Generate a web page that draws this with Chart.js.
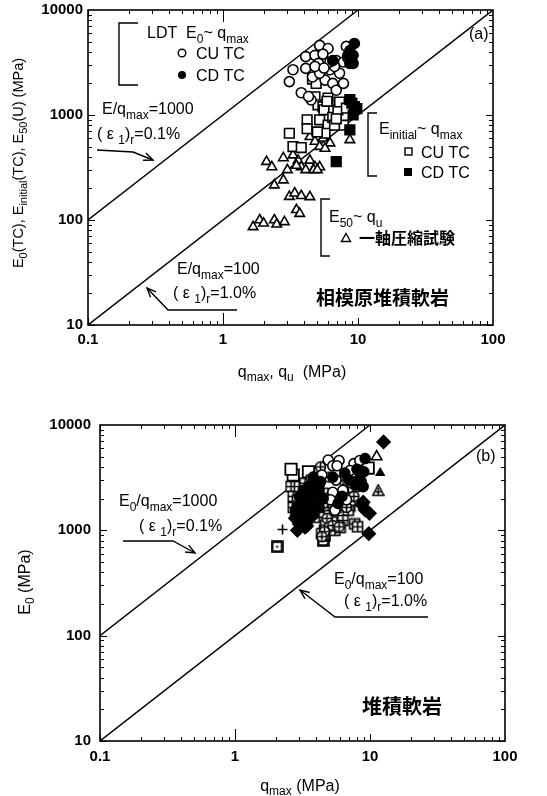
<!DOCTYPE html>
<html>
<head>
<meta charset="utf-8">
<script src="https://cdn.jsdelivr.net/npm/chart.js@4"></script>
<style>
  body { margin: 0; background: #fff; }
  #boxA { position: absolute; left: 0; top: 0; }
  #boxB { position: absolute; left: 0; top: 400px; }
</style>
</head>
<body>
<div id="boxA"><canvas id="chartA" width="547" height="395"></canvas></div>
<div id="boxB"><canvas id="chartB" width="547" height="396"></canvas></div>
<script>
// --- axes ---
const xTicks = [0.1, 1, 10, 100];
const yTicks = [10, 100, 1000, 10000];
const xTickLabels = ['0.1', '1', '10', '100'];
const yTickLabels = ['10', '100', '1000', '10000'];

// reference lines E/qmax = 1000 and 100
const line1000Q = [0.1, 10];
const line1000E = [100, 10000];
const line100Q = [0.1, 100];
const line100E = [10, 10000];

// --- (a) 相模原堆積軟岩 ---
// LDT E0 ~ qmax, CU TC
const ldtCuQ = [3.1, 3.3, 3.8, 4.1, 4.1, 4.8, 5.2, 5.1, 4.5, 6.0, 6.2, 6.9, 5.7, 6.5, 7.3, 7.8, 8.2, 6.9, 7.8, 5.5, 4.6, 5.2, 4.8, 6.7, 8.4, 6.2, 5.6, 4.3];
const ldtCuE = [2080, 2700, 1630, 3600, 2780, 3700, 4600, 3100, 1390, 4300, 2700, 3300, 2150, 2000, 2500, 3200, 4500, 1720, 2000, 3800, 2300, 2500, 2900, 2900, 3500, 3200, 2800, 1500];
// LDT E0 ~ qmax, CD TC
const ldtCdQ = [9.4, 8.4, 8.7, 9.2, 6.5, 8.7, 9.2];
const ldtCdE = [4800, 3700, 3100, 3100, 3300, 4100, 3700];
// Einitial ~ qmax, CU TC
const iniCuQ = [3.1, 3.3, 3.8, 4.2, 4.2, 4.8, 5.05, 5.5, 6.0, 5.2, 5.6, 6.0, 5.7, 5.0, 6.5, 7.1, 7.3, 7.8, 6.7, 4.6, 6.9, 8.2, 4.9, 5.9];
const iniCuE = [670, 500, 490, 900, 740, 1490, 1250, 1200, 1450, 900, 1120, 800, 670, 690, 950, 1120, 1330, 800, 800, 2200, 920, 1160, 2000, 1350];
// Einitial ~ qmax, CD TC
const iniCdQ = [6.9, 8.7, 8.7, 9.4, 9.2, 9.8, 9.0];
const iniCdE = [360, 720, 1400, 1200, 1000, 1150, 1300];
// E50 ~ qu, 一軸圧縮試験
const uniQ = [1.67, 1.87, 2.0, 2.4, 2.5, 2.85, 2.1, 2.3, 2.8, 3.0, 2.8, 2.4, 3.1, 3.4, 3.8, 4.4, 3.5, 3.7, 3.6, 3.8, 4.1, 4.4, 4.8, 5.2, 4.7, 5.0, 4.4, 4.8, 5.2, 5.5, 6.2, 5.7, 8.7, 3.3, 3.5];
const uniE = [86, 100, 93, 100, 91, 96, 360, 320, 390, 300, 240, 215, 167, 180, 170, 166, 125, 115, 370, 320, 300, 370, 320, 320, 300, 300, 620, 560, 500, 600, 540, 480, 580, 415, 330];

// --- (b) 堆積軟岩 ---
const bOpenCircQ = [4.9, 5.3, 5.9, 7.6, 8.4, 5.6, 5.3, 6.3, 6.7, 5.5, 7.1, 5.1, 4.4, 4.2, 5.7];
const bOpenCircE = [4650, 4100, 4600, 4300, 4600, 3000, 2300, 2400, 1950, 1550, 3700, 1950, 3350, 2700, 4100];
const bPlusCircQ = [4.8, 5.0, 5.3, 5.9, 4.6, 4.4, 6.3, 7.3, 7.8, 6.9, 6.0, 6.7, 4.3, 3.9, 5.0, 7.6, 8.2, 4.5];
const bPlusCircE = [1300, 1080, 1110, 1080, 970, 870, 3000, 2800, 3200, 2300, 1950, 1650, 4000, 2800, 3200, 2100, 2600, 1800];
const bGridSqQ = [2.6, 2.7, 3.0, 3.3, 2.7, 2.9, 3.4, 3.8, 3.7, 4.1, 4.5, 4.9, 5.6, 6.3, 7.1, 6.9, 4.2, 5.0, 7.7, 8.1, 5.7, 6.3, 4.6, 4.7, 5.5, 6.0, 4.4];
const bGridSqE = [2600, 2100, 2600, 2800, 1650, 1900, 1550, 2100, 3000, 3200, 2250, 1650, 1650, 1750, 1700, 1550, 1330, 1380, 1150, 1080, 1200, 1240, 1000, 1120, 1000, 1060, 930];
const bFillCircQ = [9.2, 3.8, 4.2, 3.6, 3.3, 3.1, 3.4, 3.8, 2.8, 4.2, 8.4, 8.9, 5.3, 4.0, 3.0, 2.8, 3.2, 3.5, 3.9, 4.3, 3.6, 4.0, 3.3, 3.7, 4.5, 2.9, 3.1, 3.5, 6.5, 7.0, 7.8, 8.6, 9.0, 8.0, 6.2, 5.8];
const bFillCircE = [4800, 3200, 2400, 1950, 2100, 1650, 1250, 1400, 1350, 1650, 3100, 2600, 3200, 1800, 2100, 1550, 2400, 2600, 2500, 2900, 2200, 2300, 1800, 1600, 2000, 1700, 1450, 1250, 3500, 3000, 2700, 2900, 3600, 3800, 2100, 1800];
const bDiamondQ = [12.6, 9.8, 8.7, 9.2, 9.9, 8.9, 2.9, 3.3, 3.4, 2.8, 3.6, 3.0, 3.2];
const bDiamondE = [6900, 930, 1750, 1560, 1450, 1850, 1000, 1070, 1100, 1300, 1350, 1150, 1200];
const bOpenSqQ = [2.7, 3.5, 2.6, 9.7];
const bOpenSqE = [3350, 3600, 3800, 3900];
const bDotSqQ = [2.05, 4.5, 4.6];
const bDotSqE = [700, 800, 900];
const bOpenTriQ = [11.2];
const bOpenTriE = [5000];
const bFillTriQ = [11.9];
const bFillTriE = [3500];
const bPlusTriQ = [11.5];
const bPlusTriE = [2400];
const bCrossQ = [2.25];
const bCrossE = [1020];

const FONT = '"Liberation Sans", Arial, sans-serif';
const CJK = '"Noto Sans CJK JP", "Noto Sans CJK SC", sans-serif';

function pts(qs, es) {
  return qs.map((q, i) => ({ x: q, y: es[i] }));
}

// small canvases used as point styles for the crowded panel (b)
function marker(draw) {
  const c = document.createElement('canvas');
  c.width = 13; c.height = 13;
  const g = c.getContext('2d');
  g.strokeStyle = '#000'; g.fillStyle = '#fff'; g.lineWidth = 1.6;
  draw(g);
  return c;
}
const circlePlus = marker(g => {
  g.beginPath(); g.arc(6.5, 6.5, 5, 0, Math.PI * 2); g.fill(); g.stroke();
  g.beginPath(); g.moveTo(6.5, 1.5); g.lineTo(6.5, 11.5); g.moveTo(1.5, 6.5); g.lineTo(11.5, 6.5); g.stroke();
});
const gridSquare = marker(g => {
  g.fillRect(1.5, 1.5, 10, 10); g.strokeRect(1.5, 1.5, 10, 10);
  g.beginPath(); g.moveTo(6.5, 1.5); g.lineTo(6.5, 11.5); g.moveTo(1.5, 6.5); g.lineTo(11.5, 6.5); g.stroke();
});
const dotSquare = marker(g => {
  g.lineWidth = 2.6;
  g.fillRect(1.5, 1.5, 10, 10); g.strokeRect(1.5, 1.5, 10, 10);
  g.fillStyle = '#000'; g.fillRect(5.5, 5.5, 2, 2);
});
const triPlus = marker(g => {
  g.beginPath(); g.moveTo(6.5, 1); g.lineTo(12, 11.5); g.lineTo(1, 11.5); g.closePath(); g.fill(); g.stroke();
  g.beginPath(); g.moveTo(6.5, 4); g.lineTo(6.5, 11.5); g.moveTo(3.5, 8); g.lineTo(9.5, 8); g.stroke();
});

function scatterSet(data, style, fill, radius, border) {
  return {
    data: data,
    pointStyle: style,
    pointRadius: radius,
    pointBackgroundColor: fill,
    pointBorderColor: '#000',
    pointBorderWidth: border || 1.6,
    showLine: false
  };
}
function refLine(qs, es) {
  return {
    data: pts(qs, es),
    showLine: true,
    borderColor: '#000',
    borderWidth: 1.4,
    pointRadius: 0,
    fill: false
  };
}

function logScales(yWidth, xHeight, xPad, yPad) {
  const zeroPad = s => { s.paddingLeft = 0; s.paddingRight = 0; s.paddingTop = 0; s.paddingBottom = 0; };
  return {
    x: {
      type: 'logarithmic', min: 0.1, max: 100,
      afterBuildTicks: s => { s.ticks = xTicks.map(v => ({ value: v, major: true })); },
      ticks: {
        callback: (v, i) => xTickLabels[i],
        color: '#000', font: { family: FONT, size: 15, weight: 'bold' },
        padding: xPad, maxRotation: 0, autoSkip: false
      },
      grid: { display: false, drawTicks: false }, border: { display: false },
      afterFit: s => { s.height = xHeight; zeroPad(s); }
    },
    y: {
      type: 'logarithmic', min: 10, max: 10000,
      afterBuildTicks: s => { s.ticks = yTicks.map(v => ({ value: v, major: true })); },
      ticks: {
        callback: (v, i) => yTickLabels[i],
        color: '#000', font: { family: FONT, size: 15, weight: 'bold' },
        padding: yPad, autoSkip: false
      },
      grid: { display: false, drawTicks: false }, border: { display: false },
      afterFit: s => { s.width = yWidth; zeroPad(s); }
    }
  };
}

// frame with inward decade and minor ticks on all four sides
const frameTicks = {
  id: 'frameTicks',
  afterDraw(chart) {
    const { ctx, chartArea: a, scales: { x, y } } = chart;
    ctx.save();
    ctx.strokeStyle = '#000';
    ctx.lineWidth = 1.6;
    ctx.strokeRect(a.left, a.top, a.right - a.left, a.bottom - a.top);
    ctx.lineWidth = 1;
    ctx.beginPath();
    for (let d = -1; d <= 1; d++) {
      for (let m = 1; m <= 9; m++) {
        const v = m * Math.pow(10, d);
        const px = Math.round(x.getPixelForValue(v)) + 0.5;
        const len = m === 1 ? (d === 0 ? 12 : 7) : 4;
        ctx.moveTo(px, a.bottom); ctx.lineTo(px, a.bottom - len);
        ctx.moveTo(px, a.top); ctx.lineTo(px, a.top + len);
      }
    }
    for (let d = 1; d <= 3; d++) {
      for (let m = 1; m <= 9; m++) {
        const v = m * Math.pow(10, d);
        const py = Math.round(y.getPixelForValue(v)) + 0.5;
        const len = m === 1 ? 7 : 4;
        ctx.moveTo(a.left, py); ctx.lineTo(a.left + len, py);
        ctx.moveTo(a.right, py); ctx.lineTo(a.right - len, py);
      }
    }
    ctx.stroke();
    ctx.restore();
  }
};

// text with subscripts: parts = [[text, 'sub'?], ...]
const SUB = 0.78;
function rich(c, x, y, parts, size, weight, family) {
  let cx = x;
  for (const [t, k] of parts) {
    const s = k === 'sub' ? Math.round(size * SUB) : size;
    c.font = (weight || 'normal') + ' ' + s + 'px ' + (family || FONT);
    c.fillText(t, cx, k === 'sub' ? y + size * 0.3 : y);
    cx += c.measureText(t).width;
  }
  return cx - x;
}
function richWidth(c, parts, size) {
  let w = 0;
  for (const [t, k] of parts) {
    const s = k === 'sub' ? Math.round(size * SUB) : size;
    c.font = 'normal ' + s + 'px ' + FONT;
    w += c.measureText(t).width;
  }
  return w;
}
function xTitle(c, cx, cy, parts, size) {
  const w = richWidth(c, parts, size);
  rich(c, cx - w / 2, cy + size * 0.35, parts, size);
}
function yTitle(c, cx, cy, parts, size) {
  const w = richWidth(c, parts, size);
  c.save();
  c.translate(cx, cy);
  c.rotate(-Math.PI / 2);
  rich(c, -w / 2, size * 0.35, parts, size);
  c.restore();
}
function arrow(c, path) {
  c.beginPath();
  c.moveTo(path[0][0], path[0][1]);
  for (let i = 1; i < path.length; i++) c.lineTo(path[i][0], path[i][1]);
  c.stroke();
  const [x1, y1] = path[path.length - 2];
  const [x2, y2] = path[path.length - 1];
  const ang = Math.atan2(y2 - y1, x2 - x1);
  c.beginPath();
  c.moveTo(x2 - 10 * Math.cos(ang - 0.4), y2 - 10 * Math.sin(ang - 0.4));
  c.lineTo(x2, y2);
  c.lineTo(x2 - 10 * Math.cos(ang + 0.4), y2 - 10 * Math.sin(ang + 0.4));
  c.stroke();
}
function bracket(c, x, y1, y2, arm) {
  c.beginPath();
  c.moveTo(x + arm, y1); c.lineTo(x, y1); c.lineTo(x, y2); c.lineTo(x + arm, y2);
  c.stroke();
}
const epsParts = r => [['( ε '], ['1', 'sub'], [')'], ['r', 'sub'], ['=' + r]];

const notesA = {
  id: 'notesA',
  afterDraw(chart) {
    const c = chart.ctx;
    c.save();
    c.fillStyle = '#000'; c.strokeStyle = '#000'; c.lineWidth = 1.4;

    // LDT legend group
    bracket(c, 119, 23, 85, 19);
    rich(c, 147, 38, [['LDT  E'], ['0', 'sub'], ['~ q'], ['max', 'sub']], 16);
    c.beginPath(); c.arc(182, 53, 3.8, 0, Math.PI * 2); c.stroke();
    rich(c, 196, 59, [['CU TC']], 16);
    c.beginPath(); c.arc(182, 75, 4, 0, Math.PI * 2); c.fill();
    rich(c, 196, 81, [['CD TC']], 16);

    rich(c, 102, 114, [['E/q'], ['max', 'sub'], ['=1000']], 16);
    rich(c, 97, 139, epsParts('0.1%'), 16);
    arrow(c, [[97, 150], [133, 152], [153, 160]]);

    rich(c, 469, 39, [['(a)']], 16);

    // Einitial legend group
    bracket(c, 368, 113, 176, 9);
    rich(c, 379, 134, [['E'], ['initial', 'sub'], ['~ q'], ['max', 'sub']], 16);
    c.strokeRect(405, 148, 7, 7);
    rich(c, 421, 158, [['CU TC']], 16);
    c.fillRect(404, 168, 8, 8);
    rich(c, 421, 178, [['CD TC']], 16);

    // E50 legend group
    bracket(c, 321, 199, 256, 9);
    rich(c, 329, 222, [['E'], ['50', 'sub'], ['~ q'], ['u', 'sub']], 16);
    c.beginPath(); c.moveTo(346, 233.5); c.lineTo(350.5, 241.5); c.lineTo(341.5, 241.5); c.closePath(); c.stroke();
    rich(c, 359, 244, [['一軸圧縮試験']], 16, 'bold', CJK);

    rich(c, 177, 274, [['E/q'], ['max', 'sub'], ['=100']], 16);
    rich(c, 173, 298, epsParts('1.0%'), 16);
    arrow(c, [[237, 310], [168, 310], [147, 288]]);

    rich(c, 316, 305, [['相模原堆積軟岩']], 19, 'bold', CJK);

    xTitle(c, 292, 371, [['q'], ['max', 'sub'], [', q'], ['u', 'sub'], ['  (MPa)']], 16);
    yTitle(c, 18, 163, [['E'], ['0', 'sub'], ['(TC), E'], ['initial', 'sub'], ['(TC), E'], ['50', 'sub'], ['(U) (MPa)']], 14.5);
    c.restore();
  }
};

const notesB = {
  id: 'notesB',
  afterDraw(chart) {
    const c = chart.ctx;
    c.save();
    c.fillStyle = '#000'; c.strokeStyle = '#000'; c.lineWidth = 1.4;

    rich(c, 119, 106, [['E'], ['0', 'sub'], ['/q'], ['max', 'sub'], ['=1000']], 16);
    rich(c, 139, 131, epsParts('0.1%'), 16);
    arrow(c, [[123, 141], [173, 141], [195, 153]]);

    rich(c, 476, 61, [['(b)']], 16);

    rich(c, 334, 184, [['E'], ['0', 'sub'], ['/q'], ['max', 'sub'], ['=100']], 16);
    rich(c, 344, 206, epsParts('1.0%'), 16);
    arrow(c, [[428, 217], [335, 217], [300, 190]]);

    rich(c, 362, 314, [['堆積軟岩']], 20, 'bold', CJK);

    xTitle(c, 300, 385, [['q'], ['max', 'sub'], [' (MPa)']], 16);
    yTitle(c, 24, 182, [['E'], ['0', 'sub'], [' (MPa)']], 16);
    c.restore();
  }
};

const common = {
  responsive: false,
  animation: false,
  plugins: { legend: { display: false }, tooltip: { enabled: false } }
};

new Chart(document.getElementById('chartA'), {
  type: 'scatter',
  data: {
    datasets: [
      scatterSet(pts(ldtCdQ, ldtCdE), 'circle', '#000', 5),
      scatterSet(pts(iniCdQ, iniCdE), 'rect', '#000', 6.8),
      scatterSet(pts(ldtCuQ, ldtCuE), 'circle', '#fff', 5),
      scatterSet(pts(iniCuQ, iniCuE), 'rect', '#fff', 6.8),
      scatterSet(pts(uniQ, uniE), 'triangle', '#fff', 5.5),
      refLine(line1000Q, line1000E),
      refLine(line100Q, line100E)
    ]
  },
  options: Object.assign({}, common, {
    layout: { padding: { top: 10, right: 54, left: 0, bottom: 0 } },
    scales: logScales(88, 70, 6, 5)
  }),
  plugins: [frameTicks, notesA]
});

new Chart(document.getElementById('chartB'), {
  type: 'scatter',
  data: {
    datasets: [
      scatterSet(pts(bDiamondQ, bDiamondE), 'rectRot', '#000', 6.5),
      scatterSet(pts(bFillCircQ, bFillCircE), 'circle', '#000', 5),
      scatterSet(pts(bOpenCircQ, bOpenCircE), 'circle', '#fff', 5),
      scatterSet(pts(bPlusCircQ, bPlusCircE), circlePlus, '#fff', 5),
      scatterSet(pts(bGridSqQ, bGridSqE), gridSquare, '#fff', 5),
      scatterSet(pts(bOpenSqQ, bOpenSqE), 'rect', '#fff', 8, 1.8),
      scatterSet(pts(bDotSqQ, bDotSqE), dotSquare, '#fff', 5),
      scatterSet(pts(bOpenTriQ, bOpenTriE), 'triangle', '#fff', 6),
      scatterSet(pts(bFillTriQ, bFillTriE), 'triangle', '#000', 4.5),
      scatterSet(pts(bPlusTriQ, bPlusTriE), triPlus, '#fff', 5),
      scatterSet(pts(bCrossQ, bCrossE), 'cross', '#000', 5, 1.6),
      refLine(line1000Q, line1000E),
      refLine(line100Q, line100E)
    ]
  },
  options: Object.assign({}, common, {
    layout: { padding: { top: 25, right: 42, left: 0, bottom: 0 } },
    scales: logScales(100, 55, 7, 9)
  }),
  plugins: [frameTicks, notesB]
});
</script>
</body>
</html>
